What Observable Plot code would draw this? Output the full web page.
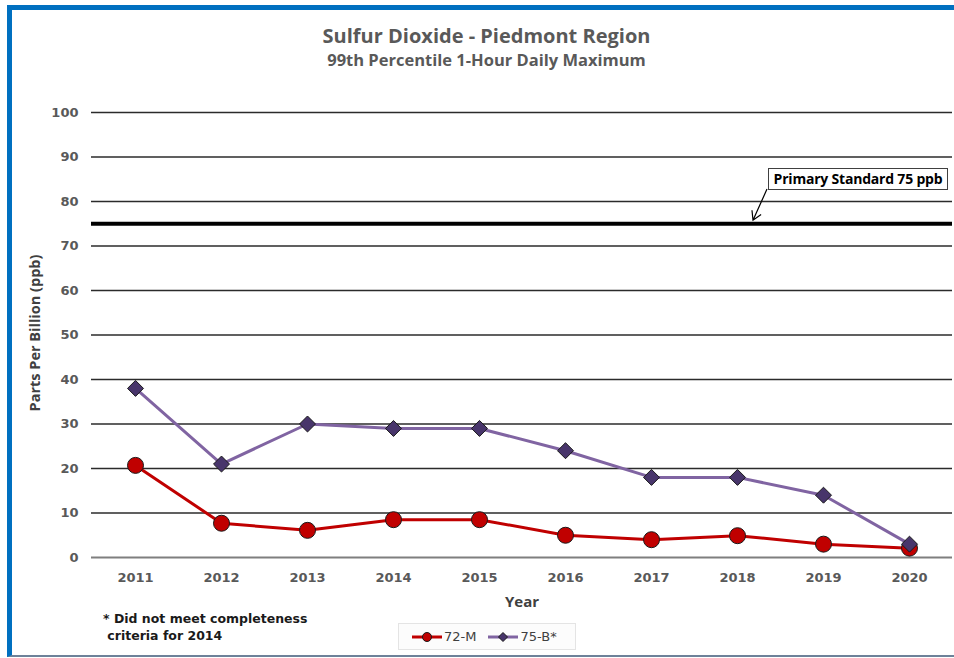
<!DOCTYPE html>
<html><head><meta charset="utf-8">
<script src="https://cdn.jsdelivr.net/npm/d3@7"></script>
<script src="https://cdn.jsdelivr.net/npm/@observablehq/plot@0.6"></script>
<style>
body{margin:0;background:#fff;}
#wrap{position:relative;width:954px;height:658px;overflow:hidden;font-family:"DejaVu Sans",Verdana,sans-serif;background:#fff;}
#frame{position:absolute;left:7px;top:5px;width:942px;height:645px;border-left:5px solid #0070C0;border-top:5px solid #0070C0;border-bottom:2px solid #6d8299;}
#chart{position:absolute;left:0;top:0;}
.title{position:absolute;left:19px;width:935px;text-align:center;color:#595959;font-family:"Open Sans",sans-serif;font-weight:bold;}
#t1{top:24px;font-size:20px;line-height:24px;}
#t2{top:50px;font-size:16.5px;line-height:20px;}
#note{position:absolute;left:103px;top:610px;font-size:12.5px;font-weight:bold;color:#1a1a1a;line-height:17px;white-space:pre;}
#legend{position:absolute;left:398px;top:623px;width:176px;height:25px;border:1px solid #e4e4e4;background:#fcfcfc;font-size:13px;color:#404040;display:flex;align-items:center;}
#legend span.item{display:flex;align-items:center;margin-left:13px;}
#legend span.item + span.item{margin-left:12px;}
#legend svg{margin-right:2px;}
#std{position:absolute;left:768px;top:168px;width:178px;height:20px;border:1px solid #404040;background:#fff;font-family:"Open Sans",sans-serif;font-weight:bold;font-size:14px;line-height:20px;color:#000;text-align:center;white-space:nowrap;letter-spacing:-0.2px;}
#arrow{position:absolute;left:0;top:0;}
</style></head>
<body>
<div id="wrap">
  <div id="frame"></div>
  <div id="chart"></div>
  <div class="title" id="t1"></div>
  <div class="title" id="t2"></div>
  <div id="note"></div>
  <div id="legend"></div>
  <svg id="arrow" width="954" height="658"></svg>
  <div id="std"></div>
</div>
<script>
const titleText = "Sulfur Dioxide - Piedmont Region";
const subtitleText = "99th Percentile 1-Hour Daily Maximum";
const yLabel = "Parts Per Billion (ppb)";
const xLabel = "Year";
const noteText = "* Did not meet completeness\n criteria for 2014";
const years = ["2011","2012","2013","2014","2015","2016","2017","2018","2019","2020"];
const seriesNames = ["72-M", "75-B*"];
const m72 = [20.7, 7.7, 6.1, 8.5, 8.5, 5.0, 4.0, 4.9, 3.0, 2.1];
const b75 = [38, 21, 30, 29, 29, 24, 18, 18, 14, 3];
const yTicks = [0, 10, 20, 30, 40, 50, 60, 70, 80, 90, 100];
const standard = 75;
const standardLabel = "Primary Standard 75 ppb";

const redLine = "#C00000", redFill = "#C00000";
const purpleLine = "#8064A2", purpleFill = "#48356B";

document.getElementById("t1").textContent = titleText;
document.getElementById("t2").textContent = subtitleText;
document.getElementById("note").textContent = noteText;
document.getElementById("std").textContent = standardLabel;

const d72 = years.map((y, i) => ({year: y, v: m72[i]}));
const d75 = years.map((y, i) => ({year: y, v: b75[i]}));

const font = "DejaVu Sans, Verdana, sans-serif";
const chart = Plot.plot({
  width: 954, height: 658,
  marginLeft: 91, marginRight: 2, marginTop: 112, marginBottom: 101,
  style: {background: "transparent", fontFamily: font},
  x: {type: "point", domain: years, padding: 0.5, axis: null},
  y: {domain: [0, 100], axis: null},
  marks: [
    Plot.ruleY(yTicks.filter(d => d > 0), {stroke: "#2b2b2b", strokeWidth: 1.3}),
    Plot.ruleY([0], {stroke: "#7f7f7f", strokeWidth: 2.2}),
    Plot.ruleY([standard], {stroke: "#000", strokeWidth: 4}),
    Plot.text(yTicks, {y: d => d, text: d => String(d), frameAnchor: "left", textAnchor: "end", dx: -13, fontWeight: "bold", fontSize: 13, fill: "#595959"}),
    Plot.text(years, {x: d => d, text: d => d, frameAnchor: "bottom", dy: 20, lineAnchor: "middle", fontWeight: "bold", fontSize: 13, fill: "#595959"}),
    Plot.text([yLabel], {text: d => d, frameAnchor: "left", textAnchor: "middle", lineAnchor: "middle", dx: -56, dy: -2, rotate: -90, fontWeight: "bold", fontSize: 14.5, fill: "#404040", fontFamily: "Open Sans, sans-serif"}),
    Plot.text([xLabel], {text: d => d, frameAnchor: "bottom", textAnchor: "middle", dy: 45, lineAnchor: "middle", fontWeight: "bold", fontSize: 15, fill: "#404040", fontFamily: "Open Sans, sans-serif"}),
    Plot.line(d72, {x: "year", y: "v", stroke: redLine, strokeWidth: 3}),
    Plot.line(d75, {x: "year", y: "v", stroke: purpleLine, strokeWidth: 3}),
    Plot.dot(d72, {x: "year", y: "v", r: 8, fill: redFill, stroke: "#1a1a1a", strokeWidth: 1}),
    Plot.dot(d75, {x: "year", y: "v", r: 7.2, symbol: "diamond2", fill: purpleFill, stroke: "#1a1a1a", strokeWidth: 1})
  ]
});
document.getElementById("chart").appendChild(chart);

// annotation arrow (from the label box toward the standard line)
const yS = chart.scale("y");
const tipY = yS.apply(standard) - 3;
const tipX = 753, startX = 767, startY = 189;
const arrowSvg = d3.select("#arrow");
const dx = tipX - startX, dy = tipY - startY, len = Math.hypot(dx, dy);
const ux = -dx / len, uy = -dy / len, h = 10, a = Math.PI / 6;
const p1 = [tipX + h * (ux * Math.cos(a) - uy * Math.sin(a)), tipY + h * (ux * Math.sin(a) + uy * Math.cos(a))];
const p2 = [tipX + h * (ux * Math.cos(-a) - uy * Math.sin(-a)), tipY + h * (ux * Math.sin(-a) + uy * Math.cos(-a))];
arrowSvg.append("path").attr("d", `M${startX},${startY}L${tipX},${tipY}M${p1[0]},${p1[1]}L${tipX},${tipY}L${p2[0]},${p2[1]}`)
  .attr("fill", "none").attr("stroke", "#000").attr("stroke-width", 1.2);

// legend
const legend = document.getElementById("legend");
const specs = [
  {name: seriesNames[0], line: redLine, fill: redFill, sym: "circle"},
  {name: seriesNames[1], line: purpleLine, fill: purpleFill, sym: "diamond"}
];
specs.forEach(s => {
  const item = document.createElement("span");
  item.className = "item";
  const svg = d3.create("svg").attr("width", 30).attr("height", 12);
  svg.append("line").attr("x1", 0).attr("x2", 30).attr("y1", 6).attr("y2", 6).attr("stroke", s.line).attr("stroke-width", 3);
  if (s.sym === "circle") svg.append("circle").attr("cx", 15).attr("cy", 6).attr("r", 4.5).attr("fill", s.fill).attr("stroke", "#1a1a1a");
  else svg.append("path").attr("d", "M15,1.5L19.5,6L15,10.5L10.5,6Z").attr("fill", s.fill).attr("stroke", "#1a1a1a");
  item.appendChild(svg.node());
  const t = document.createElement("span");
  t.textContent = s.name;
  item.appendChild(t);
  legend.appendChild(item);
});
</script>
</body></html>
